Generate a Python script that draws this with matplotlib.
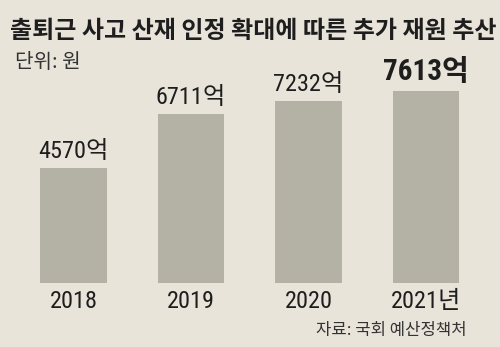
import matplotlib
matplotlib.use('Agg')
import matplotlib.pyplot as plt

years = ['2018', '2019', '2020', '2021년']
values = [4570, 6711, 7232, 7613]
value_labels = ['4570억', '6711억', '7232억', '7613억']

title = '출퇴근 사고 산재 인정 확대에 따른 추가 재원 추산'
unit = '단위: 원'
source = '자료: 국회 예산정책처'

bg = '#e8e4da'
bar_color = '#b4b1a5'
ink = '#1e1e1e'

# condensed digits, hangul picked up from the CJK family
num_font = ['Roboto Condensed', 'Liberation Sans Narrow', 'Roboto', 'Noto Sans CJK KR']
kr_font = ['Noto Sans CJK KR', 'DejaVu Sans']

W, H = 500, 347
fig = plt.figure(figsize=(W / 100, H / 100), dpi=100, facecolor=bg)
ax = fig.add_axes([0, 0, 1, 1])
ax.set_facecolor(bg)

# pixel layout: bar centres 117.5 px apart, baseline 64 px from bottom
px_per_unit = 0.02516
ax.set_xlim(-73.5 / 117.5, (W - 73.5) / 117.5)
ax.set_ylim(-64 / px_per_unit, (H - 64) / px_per_unit)
ax.axis('off')

x = list(range(len(values)))
ax.bar(x, values, width=0.57, color=bar_color, edgecolor='none')

for i, (v, lab) in enumerate(zip(values, value_labels)):
    last = i == len(values) - 1
    ax.annotate(lab, (i, v), xytext=(0, 8.6 if last else 7.2), textcoords='offset points',
                ha='center', va='baseline', color=ink,
                fontsize=21 if last else 17.5,
                fontweight='bold' if last else 'normal',
                family=num_font)
    ax.annotate(years[i], (i, 0), xytext=(0, -18), textcoords='offset points',
                ha='center', va='baseline', color=ink, fontsize=17.5, family=num_font)

fig.text(10 / W, 1 - 31 / H, title, ha='left', va='center', fontsize=17.3,
         fontweight='bold', color=ink, family=kr_font)
fig.text(15 / W, 1 - 63 / H, unit, ha='left', va='center', fontsize=14.5,
         color='#333333', family=kr_font)
fig.text(467 / W, 1 - 330 / H, source, ha='right', va='center', fontsize=12,
         color='#333333', family=kr_font)

fig.savefig('out.png', dpi=100, facecolor=bg)
